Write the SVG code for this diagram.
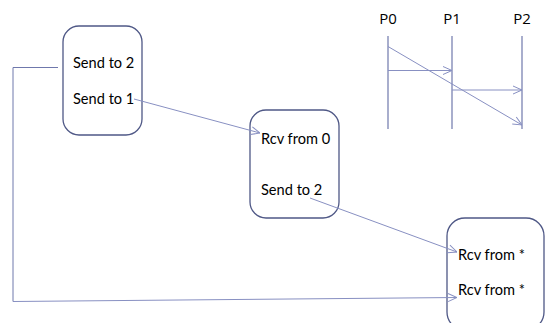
<svg xmlns="http://www.w3.org/2000/svg" width="546" height="323" viewBox="0 0 546 323">
<style>
.box{fill:#fff;stroke:#4f5886;stroke-width:1.3}
.t{font-family:Lato,"Open Sans",sans-serif;font-size:14.6px;fill:#000}
.p{font-family:"Open Sans","Liberation Sans",sans-serif;font-size:15px;fill:#000}
.c{fill:none;stroke:#8890c2;stroke-width:1}
.tl{fill:none;stroke:#6f78ac;stroke-width:1.2}
</style>
<defs>
<marker id="a" viewBox="0 0 10 10" refX="10" refY="5" markerWidth="10" markerHeight="10" markerUnits="userSpaceOnUse" orient="auto">
<path d="M1,1 L10,5 L1,9" fill="none" stroke="#8890c2" stroke-width="1"/>
</marker>
</defs>
<rect width="546" height="323" fill="#fff"/>
<g id="node-a">
<rect class="box" x="63" y="26" width="79" height="109" rx="16"/>
<text class="t" x="73" y="68">Send to 2</text>
<text class="t" x="73" y="104">Send to 1</text>
</g>
<g id="node-b">
<rect class="box" x="250" y="110" width="89" height="108" rx="16"/>
<text class="t" x="261" y="144">Rcv from 0</text>
<text class="t" x="261" y="195">Send to 2</text>
</g>
<g id="node-c">
<rect class="box" x="447" y="218" width="97" height="112" rx="18"/>
<text class="t" x="458" y="260">Rcv from *</text>
<text class="t" x="458" y="295">Rcv from *</text>
</g>
<g id="timeline">
<text class="p" x="388" y="24" text-anchor="middle">P0</text>
<text class="p" x="452" y="24" text-anchor="middle">P1</text>
<text class="p" x="522" y="24" text-anchor="middle">P2</text>
<line class="tl" x1="388" y1="36" x2="388" y2="129"/>
<line class="tl" x1="452" y1="36" x2="452" y2="129"/>
<line class="tl" x1="522" y1="36" x2="522" y2="129"/>
<line class="c" x1="388" y1="46.5" x2="522" y2="125" marker-end="url(#a)"/>
<line class="c" x1="388" y1="70.5" x2="452" y2="70.5" marker-end="url(#a)"/>
<line class="c" x1="452" y1="90" x2="522" y2="90" marker-end="url(#a)"/>
</g>
<g id="connectors">
<polyline fill="none" stroke="#6f78ac" stroke-width="1" points="58,67.5 13,67.5 13,301.5"/>
<line class="c" x1="13" y1="301.5" x2="457" y2="297.5" marker-end="url(#a)"/>
<line class="c" x1="134" y1="99" x2="260" y2="133" marker-end="url(#a)"/>
<line class="c" x1="310" y1="198" x2="457" y2="252" marker-end="url(#a)"/>
</g>
</svg>
